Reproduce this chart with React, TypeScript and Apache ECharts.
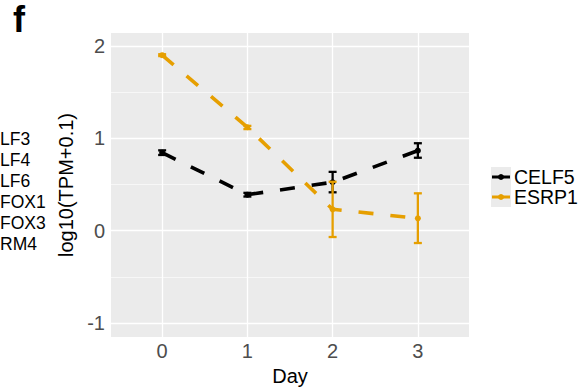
import React, { useEffect, useRef } from "react";
import * as echarts from "echarts";

const days = [0, 1, 2, 3];
const seriesNames = ["CELF5", "ESRP1"];
const celf5Mean = [0.845, 0.39, 0.525, 0.867];
const celf5Low = [0.82, 0.37, 0.416, 0.79];
const celf5High = [0.87, 0.41, 0.637, 0.947];
const esrp1Mean = [1.9, 1.12, 0.232, 0.134];
const esrp1Low = [1.89, 1.1, -0.068, -0.133];
const esrp1High = [1.91, 1.135, 0.53, 0.405];
const yMajor = [-1, 0, 1, 2];
const yMinor = [-0.5, 0.5, 1.5];
const leftLegendFragments = ["LF3", "LF4", "LF6", "FOX1", "FOX3", "RM4"];
const colors = ["#000000", "#E69F00"];

const FONT = "'Liberation Sans', Arial, Helvetica, sans-serif";

function errorBarSeries(name: string, color: string, lows: number[], highs: number[]) {
  return {
    type: "custom",
    name: name + "-err",
    z: 4,
    silent: true,
    encode: { x: 0, y: [1, 2] },
    data: days.map((d, i) => [d, lows[i], highs[i]]),
    renderItem: (params: any, api: any) => {
      const x = api.value(0);
      const pLo = api.coord([x, api.value(1)]);
      const pHi = api.coord([x, api.value(2)]);
      const w = 4;
      const style = { stroke: color, lineWidth: 2.3, fill: null, lineDash: null, opacity: 1 };
      return {
        type: "group",
        children: [
          { type: "line", shape: { x1: pLo[0], y1: pLo[1], x2: pHi[0], y2: pHi[1] }, style },
          { type: "line", shape: { x1: pLo[0] - w, y1: pLo[1], x2: pLo[0] + w, y2: pLo[1] }, style },
          { type: "line", shape: { x1: pHi[0] - w, y1: pHi[1], x2: pHi[0] + w, y2: pHi[1] }, style },
        ],
      };
    },
  };
}

function lineSeries(name: string, color: string, means: number[]) {
  return {
    type: "line",
    name,
    z: 3,
    data: days.map((d, i) => [d, means[i]]),
    symbol: "circle",
    symbolSize: 6,
    showSymbol: true,
    itemStyle: { color },
    lineStyle: { color, width: 3.6, type: [15, 17], cap: "butt" },
    silent: true,
  };
}

export default function App() {
  const ref = useRef<HTMLDivElement>(null);
  useEffect(() => {
    if (!ref.current) return;
    const chart = echarts.init(ref.current, undefined, { renderer: "svg" });
    const legendY = [177, 197];
    const legendGraphics: any[] = [];
    seriesNames.forEach((n, i) => {
      legendGraphics.push({
        type: "rect",
        shape: { x: 491, y: legendY[i] - 10, width: 20, height: 20 },
        style: { fill: "#EBEBEB" },
      });
      legendGraphics.push({
        type: "line",
        shape: { x1: 492, y1: legendY[i], x2: 510, y2: legendY[i] },
        style: { stroke: colors[i], lineWidth: 3 },
      });
      legendGraphics.push({
        type: "circle",
        shape: { cx: 501, cy: legendY[i], r: 3 },
        style: { fill: colors[i] },
      });
      legendGraphics.push({
        type: "text",
        x: 514,
        y: legendY[i],
        style: { text: n, fontSize: 19.5, fontFamily: FONT, fill: "#000", verticalAlign: "middle", align: "left" },
      });
    });
    const leftGraphics = leftLegendFragments.map((t, i) => ({
      type: "text",
      x: 0,
      y: 139 + i * 21,
      style: { text: t, fontSize: 17.5, fontFamily: FONT, fill: "#000", verticalAlign: "middle", align: "left" },
    }));

    const option: any = {
      animation: false,
      backgroundColor: "#ffffff",
      grid: { left: 111, top: 33, width: 358, height: 304, backgroundColor: "#EBEBEB", show: true, borderWidth: 0 },
      xAxis: {
        type: "value",
        min: -0.6,
        max: 3.6,
        name: "Day",
        nameLocation: "middle",
        nameGap: 26,
        nameTextStyle: { fontSize: 20, fontFamily: FONT, color: "#000" },
        axisLine: { show: false },
        axisTick: { show: true, length: 3, customValues: days, lineStyle: { color: "#333333", width: 1 } },
        axisLabel: { customValues: days, fontSize: 20, fontFamily: FONT, color: "#4D4D4D", margin: 4 },
        splitLine: { show: false },
      },
      yAxis: {
        type: "value",
        min: -1.15,
        max: 2.14,
        name: "log10(TPM+0.1)",
        nameLocation: "middle",
        nameGap: 31,
        nameTextStyle: { fontSize: 20, fontFamily: FONT, color: "#000" },
        axisLine: { show: false },
        axisTick: { show: true, length: 3, customValues: yMajor, lineStyle: { color: "#333333", width: 1 } },
        axisLabel: { customValues: yMajor, fontSize: 20, fontFamily: FONT, color: "#4D4D4D", margin: 6 },
        splitLine: { show: false },
      },
      graphic: [
        {
          type: "text",
          x: 13,
          y: 1,
          style: { text: "f", fontSize: 36, fontWeight: "bold", fontFamily: FONT, fill: "#000" },
        },
        ...leftGraphics,
        ...legendGraphics,
      ],
      series: [
        {
          type: "line",
          name: "grid",
          data: [],
          z: 1,
          silent: true,
          markLine: {
            z: 1,
            silent: true,
            symbol: "none",
            label: { show: false },
            animation: false,
            data: [
              ...yMinor.map((v) => ({ yAxis: v, lineStyle: { color: "#ffffff", width: 0.6, type: "solid" } })),
              ...yMajor.map((v) => ({ yAxis: v, lineStyle: { color: "#ffffff", width: 1.3, type: "solid" } })),
              ...days.map((v) => ({ xAxis: v, lineStyle: { color: "#ffffff", width: 1.3, type: "solid" } })),
            ],
          },
        },
        lineSeries(seriesNames[0], colors[0], celf5Mean),
        lineSeries(seriesNames[1], colors[1], esrp1Mean),
        errorBarSeries(seriesNames[0], colors[0], celf5Low, celf5High),
        errorBarSeries(seriesNames[1], colors[1], esrp1Low, esrp1High),
      ],
    };
    chart.setOption(option);
    return () => chart.dispose();
  }, []);
  return <div ref={ref} style={{ position: "fixed", left: 0, top: 0, width: 587, height: 391 }} />;
}
